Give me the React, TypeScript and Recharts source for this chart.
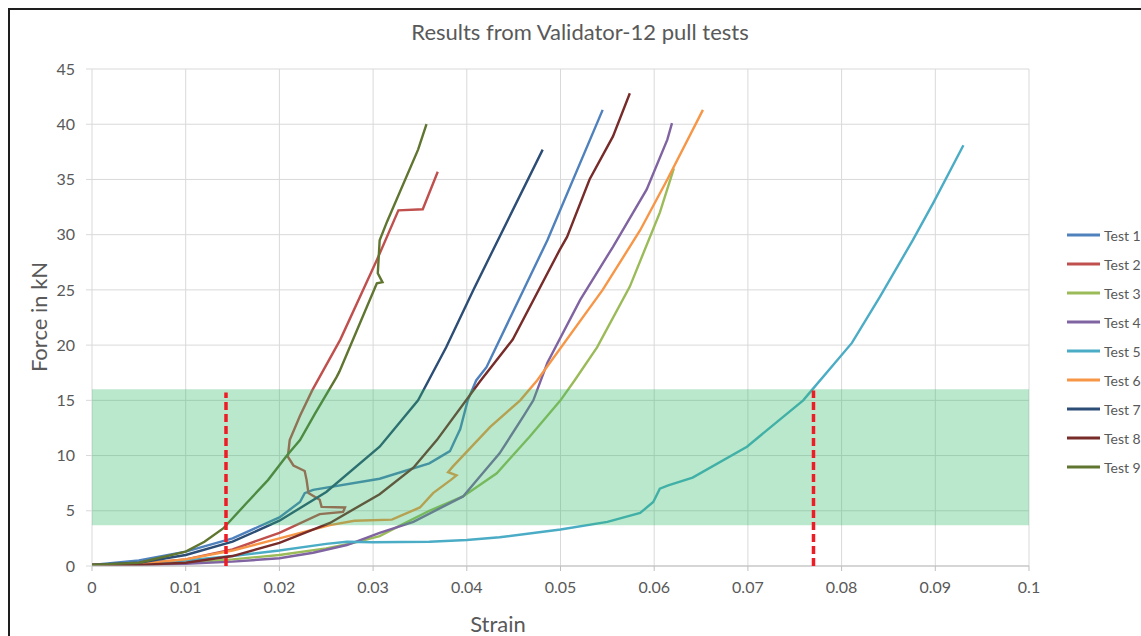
import {
  LineChart,
  Line,
  XAxis,
  YAxis,
  CartesianGrid,
  ReferenceArea,
  ReferenceLine,
} from 'recharts';

// [strain, force in kN]
const test1: [number, number][] = [
  [0, 0.1], [0.005, 0.5], [0.01, 1.3], [0.015, 2.5], [0.02, 4.4], [0.0222, 5.8],
  [0.0227, 6.6], [0.0236, 6.9], [0.0307, 7.9], [0.036, 9.3], [0.0382, 10.4],
  [0.0388, 11.5], [0.0393, 12.4], [0.0401, 15.0], [0.041, 16.8], [0.0421, 18.0],
  [0.0486, 29.5], [0.0545, 41.3],
];
const test2: [number, number][] = [
  [0, 0.1], [0.005, 0.2], [0.01, 0.6], [0.015, 1.5], [0.02, 3.0], [0.0243, 4.7],
  [0.0268, 4.9], [0.027, 5.3], [0.0245, 5.35], [0.0243, 6.0], [0.0231, 6.6],
  [0.0229, 7.8], [0.0227, 8.6], [0.0215, 9.1], [0.0209, 9.9], [0.0211, 11.4],
  [0.0222, 13.6], [0.0235, 15.9], [0.0265, 20.5], [0.0304, 27.7], [0.0327, 32.2],
  [0.0353, 32.3], [0.0369, 35.7],
];
const test3: [number, number][] = [
  [0, 0.1], [0.005, 0.1], [0.01, 0.3], [0.015, 0.6], [0.02, 1.0], [0.025, 1.6],
  [0.0279, 2.1], [0.0307, 2.7], [0.0325, 3.5], [0.036, 5.0], [0.0396, 6.3],
  [0.0432, 8.4], [0.0467, 11.7], [0.05, 15.0], [0.0515, 16.8], [0.0539, 19.8],
  [0.0574, 25.3], [0.0606, 32.0], [0.0621, 36.0],
];
const test4: [number, number][] = [
  [0, 0.1], [0.005, 0.1], [0.01, 0.2], [0.015, 0.4], [0.02, 0.7], [0.0236, 1.2],
  [0.0272, 1.9], [0.0307, 3.0], [0.0343, 4.0], [0.0396, 6.3], [0.0414, 8.1],
  [0.0435, 10.2], [0.046, 13.5], [0.0471, 15.0], [0.0486, 18.4], [0.0521, 24.1],
  [0.0556, 28.9], [0.0592, 34.1], [0.0614, 38.6], [0.0619, 40.1],
];
const test5: [number, number][] = [
  [0, 0.1], [0.005, 0.2], [0.01, 0.5], [0.015, 0.9], [0.02, 1.4], [0.025, 2.0],
  [0.0272, 2.2], [0.03, 2.15], [0.036, 2.2], [0.04, 2.35], [0.0435, 2.6],
  [0.05, 3.3], [0.055, 4.0], [0.0585, 4.8], [0.0599, 5.8], [0.0606, 7.0],
  [0.0615, 7.3], [0.0641, 8.0], [0.0699, 10.8], [0.0759, 15.0], [0.0768, 15.9],
  [0.0811, 20.2], [0.0841, 24.4], [0.0876, 29.5], [0.0898, 32.9], [0.093, 38.1],
];
const test6: [number, number][] = [
  [0, 0.1], [0.005, 0.2], [0.01, 0.6], [0.015, 1.4], [0.02, 2.5], [0.0254, 3.7],
  [0.028, 4.1], [0.032, 4.2], [0.035, 5.3], [0.0364, 6.6], [0.0383, 7.8],
  [0.0389, 8.2], [0.038, 8.5], [0.0385, 9.0], [0.0425, 12.6], [0.0457, 15.0],
  [0.0475, 16.8], [0.0545, 25.0], [0.0585, 30.4], [0.0614, 35.0], [0.0652, 41.3],
];
const test7: [number, number][] = [
  [0, 0.1], [0.005, 0.3], [0.01, 1.0], [0.015, 2.2], [0.02, 4.1], [0.025, 6.7],
  [0.0307, 10.8], [0.0348, 15.0], [0.0378, 19.8], [0.0407, 25.0], [0.0481, 37.7],
];
const test8: [number, number][] = [
  [0, 0.1], [0.005, 0.1], [0.01, 0.3], [0.015, 0.9], [0.02, 2.1], [0.0254, 3.9],
  [0.0307, 6.5], [0.0343, 8.9], [0.0368, 11.4], [0.0414, 16.7], [0.0449, 20.5],
  [0.0499, 28.6], [0.0507, 29.8], [0.0531, 35.0], [0.0556, 38.9], [0.0574, 42.8],
];
const test9: [number, number][] = [
  [0, 0.1], [0.005, 0.3], [0.01, 1.3], [0.012, 2.2], [0.014, 3.4], [0.0165, 5.7],
  [0.0188, 7.8], [0.0208, 10.0], [0.0222, 11.4], [0.0238, 13.8], [0.0261, 17.1],
  [0.0264, 17.6], [0.0304, 25.6], [0.031, 25.7], [0.0305, 26.5], [0.0307, 29.5],
  [0.0315, 31.2], [0.0348, 37.7], [0.0357, 40.0],
];

const seriesNames = ['Test 1', 'Test 2', 'Test 3', 'Test 4', 'Test 5', 'Test 6', 'Test 7', 'Test 8', 'Test 9'];
const seriesColors = ['#4F81BD', '#C0504D', '#9BBB59', '#8064A2', '#4BACC6', '#F79646', '#2C4D75', '#772C2A', '#5F7530'];
const seriesData = [test1, test2, test3, test4, test5, test6, test7, test8, test9];

const strainTicks = [0, 0.01, 0.02, 0.03, 0.04, 0.05, 0.06, 0.07, 0.08, 0.09, 0.1];
const forceTicks = [0, 5, 10, 15, 20, 25, 30, 35, 40, 45];

// target force band and the two strain markers
const bandLow = 3.7;
const bandHigh = 16;
const markerLeft: [number, number] = [0.0143, 15.7];
const markerRight: [number, number] = [0.077, 15.9];

const series = seriesNames.map((name, i) => ({
  name,
  color: seriesColors[i],
  data: seriesData[i].map(([x, y]) => ({ x, y })),
}));

const font = 'Lato, "Open Sans", sans-serif';
const textColor = '#595959';
const gridColor = '#d9d9d9';

export default function App() {
  return (
    <>
      <style>{'html,body{margin:0;overflow:hidden;}'}</style>
      <div
        style={{
          position: 'absolute',
          left: 8,
          top: 8,
          width: 1160,
          height: 640,
          boxSizing: 'border-box',
          borderLeft: '2px solid #1e1e1e',
          borderTop: '2px solid #1e1e1e',
          overflow: 'hidden',
          background: '#fff',
          fontFamily: font,
          color: textColor,
        }}
      >
        <LineChart
          width={1131}
          height={626}
          margin={{ top: 59, right: 112, bottom: 0, left: 0 }}
        >
          <CartesianGrid stroke={gridColor} strokeWidth={1} />
          <XAxis
            dataKey="x"
            type="number"
            domain={[0, 0.1]}
            ticks={strainTicks}
            interval={0}
            height={70}
            allowDataOverflow
            tickSize={5}
            tickMargin={11}
            stroke="#bfbfbf"
            tick={{ fontSize: 16, fill: textColor, fontFamily: font }}
            tickFormatter={(v: number) => String(Number(v.toFixed(2)))}
          />
          <YAxis
            type="number"
            domain={[0, 45]}
            ticks={forceTicks}
            interval={0}
            width={82}
            axisLine={false}
            tickSize={6}
            tickMargin={11}
            tickLine={{ stroke: gridColor }}
            tick={{ fontSize: 16, fill: textColor, fontFamily: font }}
          />
          {series.map((s) => (
            <Line
              key={s.name}
              data={s.data}
              dataKey="y"
              name={s.name}
              type="linear"
              stroke={s.color}
              strokeWidth={2.4}
              dot={false}
              activeDot={false}
              isAnimationActive={false}
            />
          ))}
          <ReferenceArea
            x1={0}
            x2={0.1}
            y1={bandLow}
            y2={bandHigh}
            fill="#2eb866"
            fillOpacity={0.33}
            stroke="none"
            zIndex={1500}
          />
          <ReferenceLine
            segment={[{ x: markerLeft[0], y: 0 }, { x: markerLeft[0], y: markerLeft[1] }]}
            stroke="#ee1c25"
            strokeWidth={3.5}
            strokeDasharray="8 4"
            zIndex={1600}
          />
          <ReferenceLine
            segment={[{ x: markerRight[0], y: 0 }, { x: markerRight[0], y: markerRight[1] }]}
            stroke="#ee1c25"
            strokeWidth={3.5}
            strokeDasharray="8 4"
            zIndex={1600}
          />
        </LineChart>

        <div
          style={{
            position: 'absolute',
            left: 0,
            width: 1140,
            top: 9,
            lineHeight: '26px',
            textAlign: 'center',
            fontSize: 22,
          }}
        >
          Results from Validator-12 pull tests
        </div>

        <div
          style={{
            position: 'absolute',
            left: 28,
            top: 307,
            transform: 'translate(-50%, -50%) rotate(-90deg)',
            whiteSpace: 'nowrap',
            fontSize: 22,
          }}
        >
          Force in kN
        </div>

        <div
          style={{
            position: 'absolute',
            left: 488,
            top: 614,
            transform: 'translate(-50%, -50%)',
            whiteSpace: 'nowrap',
            lineHeight: '22px',
            fontSize: 22,
          }}
        >
          Strain
        </div>

        {series.map((s, i) => (
          <div
            key={s.name}
            style={{
              position: 'absolute',
              left: 1057,
              top: 225 + i * 29.05,
              transform: 'translateY(-50%)',
              display: 'flex',
              alignItems: 'center',
              whiteSpace: 'nowrap',
              fontSize: 14,
            }}
          >
            <span style={{ display: 'inline-block', width: 33, height: 3, background: s.color, marginRight: 4 }} />
            <span>{s.name}</span>
          </div>
        ))}
      </div>
    </>
  );
}
